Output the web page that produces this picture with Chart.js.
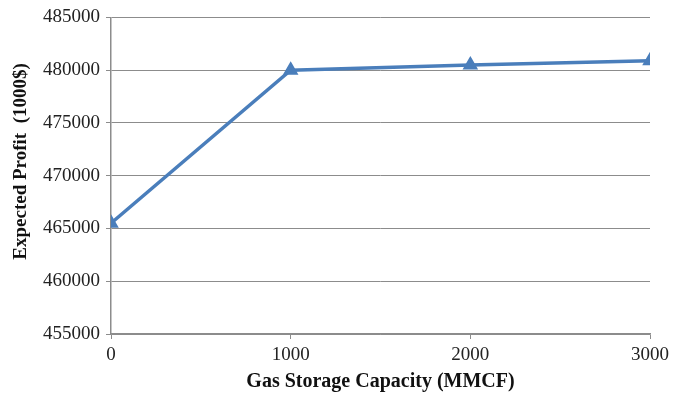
<!DOCTYPE html>
<html>
<head>
<meta charset="utf-8">
<script src="https://cdn.jsdelivr.net/npm/chart.js@4"></script>
<style>
html,body{margin:0;padding:0;background:#fff;}
#wrap{width:682px;height:396px;}
</style>
</head>
<body>
<div id="wrap"><canvas id="c" width="682" height="396"></canvas></div>
<script>
const capacities = [0, 1000, 2000, 3000];
const profits = [465500, 480000, 480500, 480900];
const xTicks = [0, 1000, 2000, 3000];
const yMin = 455000, yMax = 485000, yStep = 5000;

const points = capacities.map((x, i) => ({x: x, y: profits[i]}));

new Chart(document.getElementById('c'), {
  type: 'scatter',
  data: {
    datasets: [{
      data: points,
      showLine: true,
      borderColor: '#4a7ebb',
      backgroundColor: '#4a7ebb',
      borderWidth: 3.5,
      pointStyle: 'triangle',
      pointRadius: 5.5,
      pointHoverRadius: 5.5,
      tension: 0
    }]
  },
  options: {
    responsive: false,
    animation: false,
    events: [],
    layout: {padding: {top: 6, right: 32, left: 0, bottom: 2}},
    plugins: {legend: {display: false}, tooltip: {enabled: false}},
    scales: {
      x: {
        type: 'linear',
        min: 0, max: 3000,
        afterBuildTicks: s => { s.ticks = xTicks.map(v => ({value: v})); },
        afterFit: s => { s.height = 60; },
        grid: {display: true, drawOnChartArea: false, drawTicks: true, tickLength: 5, color: '#8c8c8c'},
        border: {display: true, color: '#8c8c8c', width: 1.5},
        ticks: {color: '#222', font: {family: 'Liberation Serif', size: 19}, padding: 5, maxRotation: 0,
                callback: v => String(v)},
        title: {display: true, text: 'Gas Storage Capacity (MMCF)', color: '#111', font: {family: 'Liberation Serif', size: 20, weight: 'bold'}, padding: {top: 0, bottom: 0}}
      },
      y: {
        min: yMin, max: yMax,
        afterFit: s => { s.width = 111; },
        ticks: {stepSize: yStep, color: '#222', font: {family: 'Liberation Serif', size: 19}, padding: 6,
                callback: v => String(v)},
        grid: {color: '#8c8c8c', tickLength: 5},
        border: {display: true, color: '#8c8c8c', width: 1.5},
        title: {display: true, text: '      Expected Profit  (1000$)', color: '#111', font: {family: 'Liberation Serif', size: 19, weight: 'bold'}, padding: {top: 10, bottom: 0}}
      }
    }
  }
});
</script>
</body>
</html>
